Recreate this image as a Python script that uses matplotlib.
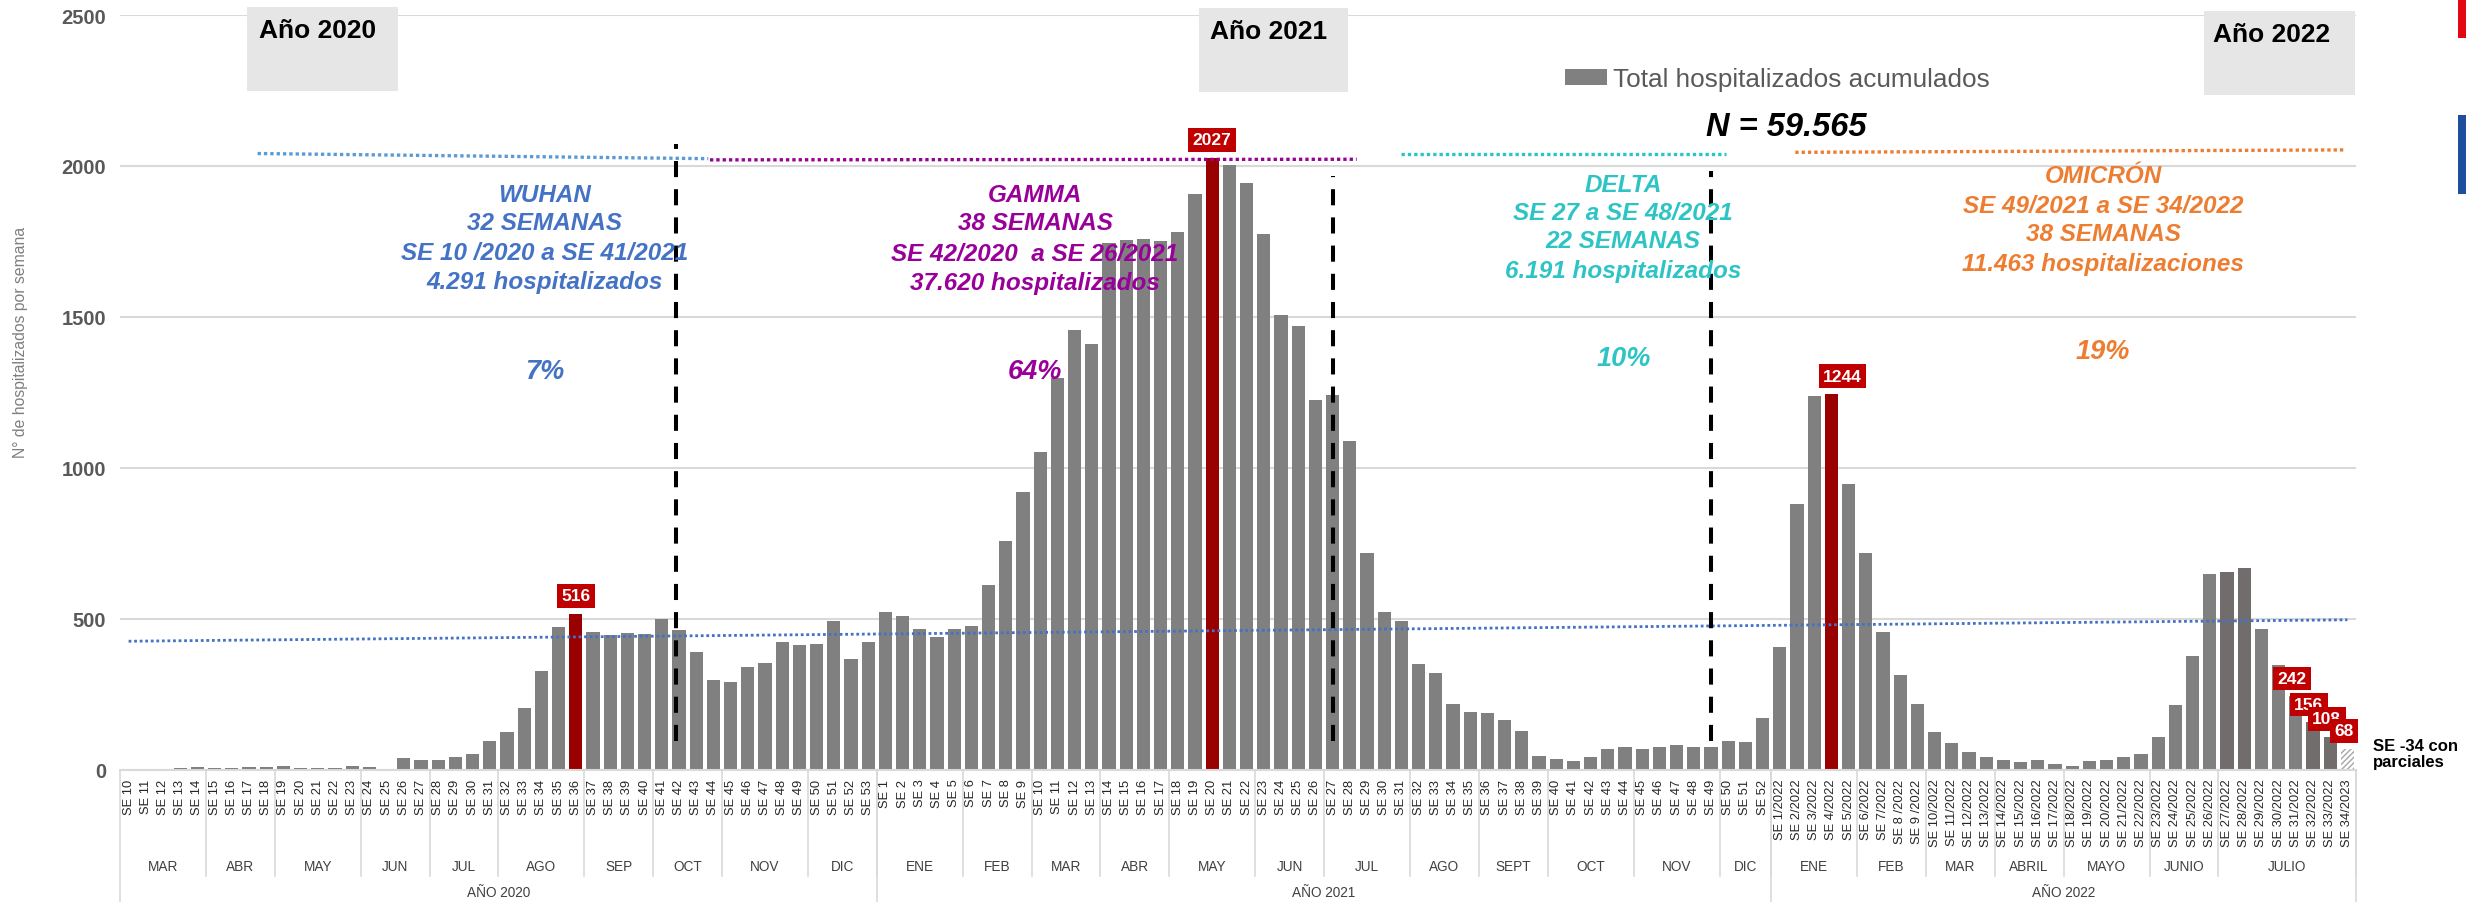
import matplotlib
matplotlib.use('Agg')
import matplotlib.pyplot as plt
import matplotlib.transforms as mtransforms
from matplotlib.patches import Rectangle

plt.rcParams['font.family'] = ['Liberation Sans', 'DejaVu Sans']

# hospitalizados por semana epidemiologica
se_2020 = list(range(10, 54))
hosp_2020 = [0, 0, 0, 4, 7, 4, 4, 7, 7, 10, 4, 4, 4, 10, 7, 1, 37, 30, 30, 40,
             50, 93, 125, 205, 326, 471, 516, 456, 445, 452, 448, 499, 461, 388,
             297, 289, 340, 354, 424, 412, 416, 493, 367, 424]
se_2021 = list(range(1, 53))
hosp_2021 = [522, 509, 466, 439, 466, 476, 610, 757, 920, 1051, 1298, 1456, 1411,
             1745, 1755, 1758, 1751, 1781, 1906, 2027, 2003, 1944, 1773, 1505,
             1469, 1223, 1240, 1089, 716, 522, 493, 348, 321, 216, 192, 186, 163,
             129, 45, 34, 27, 42, 67, 74, 67, 74, 80, 76, 76, 93, 91, 169]
se_2022 = list(range(1, 35))
hosp_2022 = [407, 879, 1239, 1244, 946, 718, 456, 313, 216, 123, 89, 57, 40, 30,
             24, 32, 18, 10, 27, 30, 42, 53, 108, 213, 376, 649, 656, 669, 465,
             346, 242, 156, 108, 68]

labels_2020 = ['SE %d' % s for s in se_2020]
labels_2021 = ['SE %d' % s for s in se_2021]
labels_2022 = ['SE %d/2022' % s for s in se_2022]
labels_2022[7] = 'SE 8 /2022'
labels_2022[8] = 'SE 9 /2022'
labels_2022[33] = 'SE 34/2023'

meses_2020 = ['MAR', 'ABR', 'MAY', 'JUN', 'JUL', 'AGO', 'SEP', 'OCT', 'NOV', 'DIC']
semanas_mes_2020 = [5, 4, 5, 4, 4, 5, 4, 4, 5, 4]
meses_2021 = ['ENE', 'FEB', 'MAR', 'ABR', 'MAY', 'JUN', 'JUL', 'AGO', 'SEPT', 'OCT', 'NOV', 'DIC']
semanas_mes_2021 = [5, 4, 4, 4, 5, 4, 5, 4, 4, 5, 5, 3]
meses_2022 = ['ENE', 'FEB', 'MAR', 'ABRIL', 'MAYO', 'JUNIO', 'JULIO']
semanas_mes_2022 = [5, 4, 4, 4, 5, 4, 8]
anios = ['AÑO 2020', 'AÑO 2021', 'AÑO 2022']

# barras destacadas (indice global) y etiquetas
idx_rojo = [26, 63, 99]
idx_oscuro = [122, 123, 127, 128]
idx_parcial = 129
etiquetas_idx = [26, 63, 99, 126, 127, 128, 129]
etiquetas_txt = ['516', '2027', '1244', '242', '156', '108', '68']
etiquetas_dx = [0, 0, 8, -3, -3, -2.5, -2.5]

# linea de tendencia (extremos)
tendencia = [425, 496]

# variantes
var_lineas = [['WUHAN', '32 SEMANAS', 'SE 10 /2020 a SE 41/2021', '4.291 hospitalizados'],
              ['GAMMA', '38 SEMANAS', 'SE 42/2020  a SE 26/2021', '37.620 hospitalizados'],
              ['DELTA', 'SE 27 a SE 48/2021', '22 SEMANAS', '6.191 hospitalizados'],
              ['OMICRÓN', 'SE 49/2021 a SE 34/2022', '38 SEMANAS', '11.463 hospitalizaciones']]
var_pct = ['7%', '64%', '10%', '19%']
var_col = ['#4472c4', '#990099', '#2ec4c6', '#ed7d31']
var_linea_col = ['#5b9bd5', '#990099', '#2ec4c6', '#ed7d31']
var_x = [24.2, 52.7, 86.9, 114.8]
var_y = [[1904, 1811, 1714, 1618], [1904, 1811, 1711, 1612],
         [1940, 1844, 1754, 1655], [1967, 1870, 1777, 1678]]
var_pct_y = [1322, 1322, 1364, 1387]
var_tramo_x = [[7.5, 33.7], [33.8, 71.4], [74.0, 92.9], [96.9, 128.8]]
var_tramo_y = [[2041, 2024], [2020, 2022], [2039, 2039], [2045, 2053]]
cortes_x = [31.8, 70.0, 92.0]
cortes_top = [2072, 1965, 1983]

valores = hosp_2020 + hosp_2021 + hosp_2022
etiquetas = labels_2020 + labels_2021 + labels_2022
x = list(range(len(valores)))

colores = []
for i in x:
    if i in idx_rojo:
        colores.append('#990000')
    elif i in idx_oscuro:
        colores.append('#716d6d')
    else:
        colores.append('#808080')

fig = plt.figure(figsize=(24.66, 9.03), dpi=100)
ax = fig.add_axes([120 / 2466, (903 - 770.5) / 903, 2236 / 2466, 754.5 / 903])

barras = ax.bar(x, valores, width=0.775, color=colores, zorder=2,
                label='Total hospitalizados acumulados')
p = barras.patches[idx_parcial]
p.set_facecolor('white')
p.set_hatch('//////')
p.set_edgecolor('#a6a6a6')
p.set_linewidth(0)

ax.set_xlim(-0.5, len(valores) - 0.5)
ax.set_ylim(0, 2500)
ax.set_yticks(range(0, 2501, 500))
ax.grid(axis='y', color='#d9d9d9', lw=1.5, zorder=0)
ax.set_axisbelow(True)
for s in ['top', 'right', 'left']:
    ax.spines[s].set_visible(False)
ax.spines['bottom'].set_color('#d9d9d9')
ax.spines['bottom'].set_linewidth(1.5)
ax.set_xticks(x)
ax.set_xticklabels(etiquetas, rotation=90, fontsize=9.3, color='#262626')
ax.tick_params(axis='x', length=0, pad=6.5)
ax.tick_params(axis='y', length=0, pad=10, labelsize=14.5, labelcolor='#595959')
for t in ax.get_yticklabels():
    t.set_fontweight('bold')

fig.text(21 / 2466, 1 - 342 / 903, 'N° de hospitalizados por semana', rotation=90,
         ha='center', va='center', fontsize=11.3, color='#7f7f7f')

# tendencia
ax.plot([x[0], x[-1]], tendencia, color='#4472c4', lw=2, dashes=(1, 1), zorder=4)

# lineas de corte entre variantes
for cx, ct in zip(cortes_x, cortes_top):
    ax.plot([cx, cx], [96, ct], color='black', lw=2.9, dashes=(4, 3), zorder=5)

# tramos de variantes y textos
for k in range(4):
    ax.plot(var_tramo_x[k], var_tramo_y[k], color=var_linea_col[k], lw=2.4,
            dashes=(1, 0.9), zorder=5)
    for txt, yy in zip(var_lineas[k], var_y[k]):
        ax.text(var_x[k], yy, txt, ha='center', va='center', color=var_col[k],
                fontsize=17.5, fontweight='bold', fontstyle='italic', zorder=6)
    ax.text(var_x[k], var_pct_y[k], var_pct[k], ha='center', va='center',
            color=var_col[k], fontsize=19.5, fontweight='bold', fontstyle='italic', zorder=6)

# etiquetas rojas
for i, txt, dx in zip(etiquetas_idx, etiquetas_txt, etiquetas_dx):
    ax.annotate(txt, xy=(i, valores[i]), xytext=(dx, 13), textcoords='offset points',
                ha='center', va='center', color='white', fontsize=12.5, fontweight='bold',
                bbox=dict(boxstyle='square,pad=0.25', fc='#c00000', ec='none'), zorder=7)

ax.text(130.5, 54, 'SE -34 con\nparciales', ha='left', va='center', fontsize=12,
        fontweight='bold', color='black', linespacing=1.05)

# cajas de anio
cajas = [(6.88, 15.64, 2526, 2247, 11.0, 2450, 'Año 2020'),
         (62.23, 70.91, 2523, 2245, 66.3, 2447, 'Año 2021'),
         (120.66, 129.44, 2513, 2235, 124.6, 2437, 'Año 2022')]
for x0, x1, y1, y0, tx, ty, txt in cajas:
    ax.add_patch(Rectangle((x0, y0), x1 - x0, y1 - y0, fc='#e7e6e6', ec='none',
                           clip_on=False, zorder=1))
    ax.text(tx, ty, txt, ha='center', va='center', fontsize=19, fontweight='bold',
            color='black', zorder=3)

ax.text(96.4, 2130, 'N = 59.565', ha='center', va='center', fontsize=23.5,
        fontweight='bold', fontstyle='italic', color='black')

fig.legend(handles=[barras], labels=['Total hospitalizados acumulados'], loc='center left',
           bbox_to_anchor=(1565 / 2466, 1 - 80.5 / 903), frameon=False, fontsize=18.8,
           handlelength=1.6, handleheight=0.58, handletextpad=0.23, borderpad=0,
           borderaxespad=0, labelcolor='#595959')

# meses y anios bajo el eje
tr = mtransforms.blended_transform_factory(ax.transData, ax.transAxes)
grupos = [(meses_2020, semanas_mes_2020), (meses_2021, semanas_mes_2021),
          (meses_2022, semanas_mes_2022)]
inicio = -0.5
ax.plot([inicio, inicio], [0, -0.1756], transform=tr, color='#d9d9d9', lw=1.2, clip_on=False)
for (meses, semanas), anio in zip(grupos, anios):
    ini_anio = inicio
    for m, n in zip(meses, semanas):
        fin = inicio + n
        ax.text((inicio + fin) / 2, -0.1279, m, transform=tr, ha='center', va='center',
                fontsize=9.8, color='#404040')
        ax.plot([fin, fin], [0, -0.1412], transform=tr, color='#d9d9d9', lw=1.2, clip_on=False)
        inicio = fin
    ax.plot([inicio, inicio], [0, -0.1756], transform=tr, color='#d9d9d9', lw=1.2, clip_on=False)
    ax.text((ini_anio + inicio) / 2, -0.1623, anio, transform=tr, ha='center', va='center',
            fontsize=9.8, color='#404040')

# bordes de logo recortado a la derecha
fig.patches.append(Rectangle((2458 / 2466, 1 - 39 / 903), 8 / 2466, 39 / 903,
                             transform=fig.transFigure, fc='#e30613', ec='none'))
fig.patches.append(Rectangle((2458 / 2466, 1 - 195 / 903), 8 / 2466, 79 / 903,
                             transform=fig.transFigure, fc='#1f4e9c', ec='none'))

fig.savefig('out.png', dpi=100)
